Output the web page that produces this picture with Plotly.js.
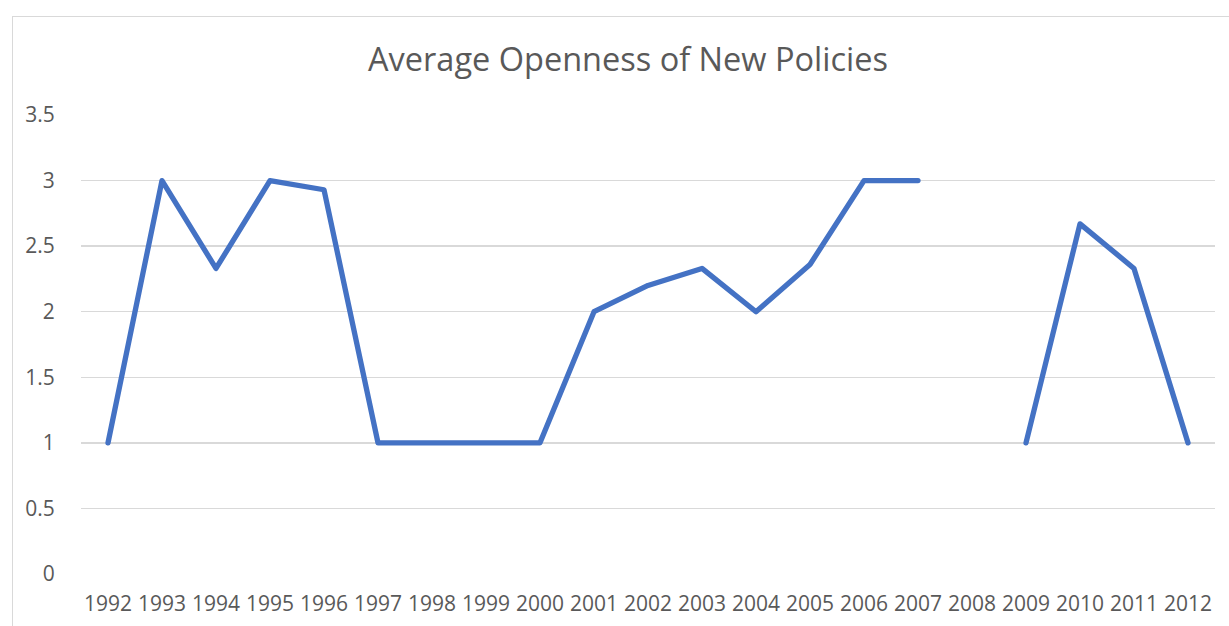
<!DOCTYPE html>
<html>
<head>
<meta charset="utf-8">
<script src="https://cdn.plot.ly/plotly-3.0.1.min.js"></script>
<style>
  html, body { margin: 0; padding: 0; background: #fff; overflow: hidden; }
  #wrap { position: relative; width: 1229px; height: 626px; }
  #frame { position: absolute; left: 12px; top: 16px; width: 1240px; height: 640px;
           border: 1px solid #d9d9d9; box-sizing: border-box; pointer-events: none; z-index: 2; }
  #chart { position: absolute; left: 0; top: 0; width: 1229px; height: 626px; }
  .scatterlayer path.js-line { stroke-linecap: round; stroke-linejoin: round; }
</style>
</head>
<body>
<div id="wrap">
  <div id="chart"></div>
  <div id="frame"></div>
</div>
<script>
const years = ["1992","1993","1994","1995","1996","1997","1998","1999","2000","2001",
               "2002","2003","2004","2005","2006","2007","2008","2009","2010","2011","2012"];
const openness = [1, 3, 2.33, 3, 2.93, 1, 1, 1, 1, 2,
                  2.2, 2.33, 2, 2.36, 3, 3, null, 1, 2.67, 2.33, 1];
const yTicks = [0, 0.5, 1, 1.5, 2, 2.5, 3, 3.5];
const yTickText = ["0", "0.5", "1", "1.5", "2", "2.5", "3", "3.5"];
const chartTitle = "Average Openness of New Policies";

const trace = {
  x: years,
  y: openness,
  type: "scatter",
  mode: "lines",
  connectgaps: false,
  line: { color: "#4472C4", width: 5.3 },
  hoverinfo: "x+y"
};

const layout = {
  width: 1229,
  height: 626,
  paper_bgcolor: "rgba(0,0,0,0)",
  plot_bgcolor: "rgba(0,0,0,0)",
  margin: { l: 81, r: 14, t: 115, b: 52 },
  showlegend: false,
  font: { family: "Open Sans, sans-serif", color: "#595959", size: 21 },
  title: {
    text: chartTitle,
    font: { family: "Open Sans, sans-serif", size: 32.5, color: "#595959" },
    x: 0.511, xanchor: "center",
    y: 1 - 60 / 626, yanchor: "middle", yref: "container"
  },
  xaxis: {
    type: "category",
    categoryorder: "array",
    categoryarray: years,
    range: [-0.5, years.length - 0.5],
    showgrid: false,
    zeroline: false,
    showline: false,
    ticks: "outside",
    ticklen: 11,
    tickcolor: "rgba(0,0,0,0)",
    tickfont: { size: 21, color: "#595959" },
    fixedrange: true
  },
  yaxis: {
    range: [0, 3.5],
    tickmode: "array",
    tickvals: yTicks,
    ticktext: yTickText,
    showgrid: true,
    gridcolor: "#d9d9d9",
    gridwidth: 1.5,
    zeroline: false,
    showline: false,
    ticks: "outside",
    ticklen: 21,
    tickcolor: "rgba(0,0,0,0)",
    tickfont: { size: 21, color: "#595959" },
    fixedrange: true
  }
};

Plotly.newPlot("chart", [trace], layout, { displayModeBar: false, staticPlot: true });
</script>
</body>
</html>
